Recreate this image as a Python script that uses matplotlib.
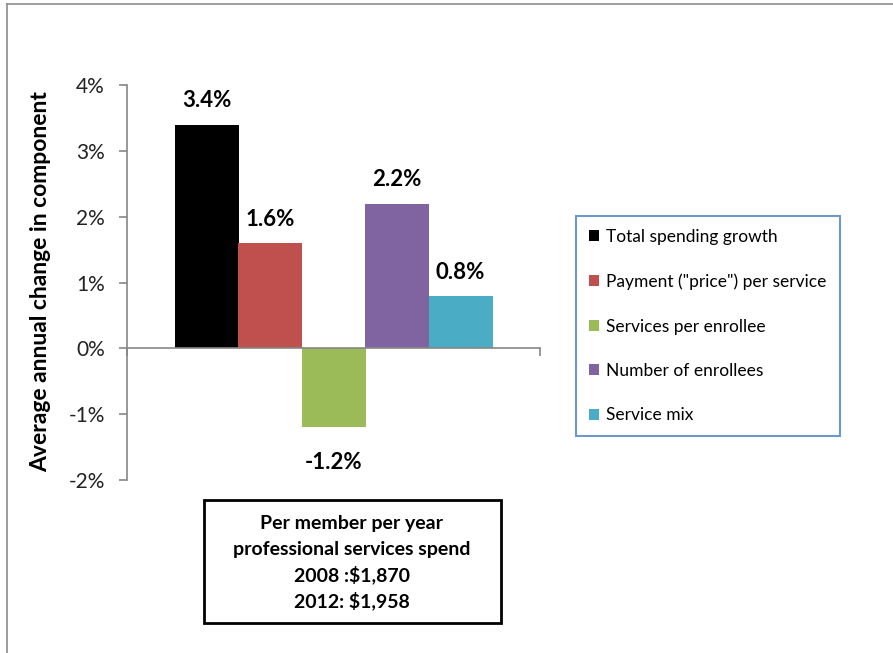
import matplotlib
matplotlib.use("Agg")
import matplotlib.pyplot as plt
from matplotlib.patches import Patch, Rectangle
from matplotlib.lines import Line2D
from matplotlib.ticker import FuncFormatter

categories = ["Total spending growth", 'Payment ("price") per service',
              "Services per enrollee", "Number of enrollees", "Service mix"]
values = [3.4, 1.6, -1.2, 2.2, 0.8]
colors = ["#000000", "#C0504D", "#9BBB59", "#8064A2", "#4BACC6"]
y_ticks = [-2, -1, 0, 1, 2, 3, 4]
box_lines = ["Per member per year", "professional services spend",
             "2008 :$1,870", "2012: $1,958"]

plt.rcParams['font.family'] = ['Lato', 'DejaVu Sans']

W, H = 893, 653
fig = plt.figure(figsize=(W / 100, H / 100), dpi=100)
ax = fig.add_axes([127 / W, 1 - 480 / H, 413 / W, 395 / H])

bw = 64 / 413
for i, (v, c) in enumerate(zip(values, colors)):
    x = (i - 2) * 63.5 / 413
    ax.bar(x, v, width=bw, color=c, label=categories[i], zorder=2)
    if v >= 0:
        ax.annotate(f"{v:.1f}%", (x, v), xytext=(0, 17), textcoords="offset points",
                    ha="center", va="center", fontsize=16, fontweight="bold")
    else:
        ax.annotate(f"{v:.1f}%", (x, v), xytext=(0, -25), textcoords="offset points",
                    ha="center", va="center", fontsize=16, fontweight="bold")

ax.set_xlim(-0.5, 0.5)
ax.set_ylim(-2, 4)
ax.set_yticks(y_ticks)
ax.yaxis.set_major_formatter(FuncFormatter(lambda v, p: f"{int(v)}%"))
ax.set_xticks([-0.5, 0.5])
ax.set_xticklabels([])
gray = "#868686"
for s in ["top", "right"]:
    ax.spines[s].set_visible(False)
ax.spines["bottom"].set_position(("data", 0))
ax.spines["left"].set_color(gray)
ax.spines["bottom"].set_color(gray)
ax.spines["left"].set_linewidth(1.2)
ax.spines["bottom"].set_linewidth(1.2)
ax.tick_params(axis="y", direction="out", length=6, width=1.2, color=gray,
               labelsize=15, pad=10, labelcolor="#222222")
ax.tick_params(axis="x", direction="out", length=6, width=1.2, color=gray)
ax.set_ylabel("Average annual change in component", fontsize=16.5, fontweight="bold")
ax.yaxis.set_label_coords(51 / W, 1 - 282 / H, transform=fig.transFigure)

handles = [Patch(facecolor=c, edgecolor="none") for c in colors]
leg = fig.legend(handles, categories, loc="upper left",
                 bbox_to_anchor=(576 / W, 1 - 216 / H), borderaxespad=0,
                 fontsize=12.5, labelspacing=1.64, handlelength=0.6, handleheight=0.6,
                 handletextpad=0.4, borderpad=0.75, fancybox=False, frameon=True)
fr = leg.get_frame()
fr.set_edgecolor("#4A7EBB")
fr.set_linewidth(1.5)

fig.add_artist(Rectangle((204 / W, 1 - 623 / H), (501 - 204) / W, 123 / H,
                         transform=fig.transFigure, fill=False, edgecolor="black", lw=2))
for j, t in enumerate(box_lines):
    fig.text(352 / W, 1 - (524 + j * 25.5) / H, t, ha="center", va="center",
             fontsize=14, fontweight="bold")

fig.add_artist(Line2D([7 / W, 1], [1 - 4 / H, 1 - 4 / H], transform=fig.transFigure,
                      color="#8C8C8C", lw=1.2))
fig.add_artist(Line2D([7 / W, 7 / W], [0, 1 - 4 / H], transform=fig.transFigure,
                      color="#8C8C8C", lw=1.2))

fig.savefig("out.png", dpi=100)
